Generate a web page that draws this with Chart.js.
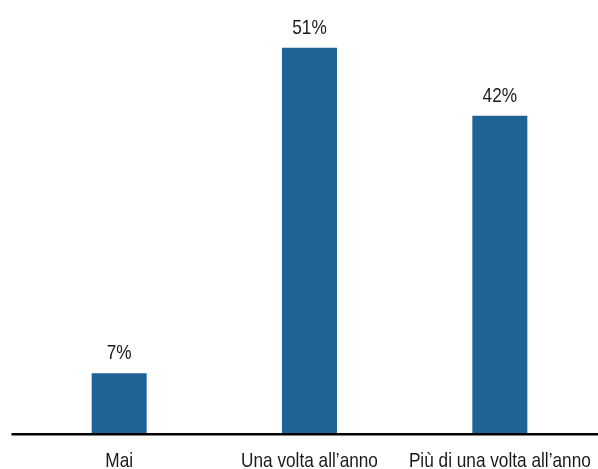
<!DOCTYPE html>
<html>
<head>
<meta charset="utf-8">
<script src="https://cdn.jsdelivr.net/npm/chart.js@4"></script>
<style>
  html, body { margin: 0; padding: 0; background: #fff; overflow: hidden; }
</style>
</head>
<body>
<canvas id="canvas" width="598" height="469"></canvas>
<script>
// dati del grafico
var categories = ["Mai", "Una volta all\u2019anno", "Pi\u00f9 di una volta all\u2019anno"];
var values = [7.9, 51, 42];
var valueLabels = ["7%", "51%", "42%"];

var FONT = "'Liberation Sans', Arial, sans-serif";
var NARROW = 0.82; // simula un carattere condensato

function narrowText(ctx, text, x, y) {
    ctx.save();
    ctx.translate(x, y);
    ctx.scale(NARROW, 1);
    ctx.fillText(text, 0, 0);
    ctx.restore();
}

// etichette (valori e categorie) + linea dell'asse
var barLabels = {
    id: "barLabels",
    afterDatasetsDraw: function (chart) {
        var ctx = chart.ctx;
        var meta = chart.getDatasetMeta(0);
        var xs = chart.scales.x;
        var y0 = chart.scales.y.getPixelForValue(0);
        ctx.save();
        ctx.fillStyle = "#1a1a1a";
        ctx.font = "21px " + FONT;
        ctx.textAlign = "center";
        ctx.textBaseline = "alphabetic";
        meta.data.forEach(function (bar, i) {
            narrowText(ctx, valueLabels[i], bar.x, bar.y - 14);
        });
        categories.forEach(function (c, i) {
            narrowText(ctx, c, xs.getPixelForValue(i), y0 + 34);
        });
        // asse x
        ctx.strokeStyle = "#000";
        ctx.lineWidth = 2.5;
        ctx.beginPath();
        ctx.moveTo(chart.chartArea.left - 12.5, y0 + 1.3);
        ctx.lineTo(chart.width, y0 + 1.3);
        ctx.stroke();
        ctx.restore();
    }
};

var ctx = document.getElementById("canvas").getContext("2d");
var config = {
    type: "bar",
    data: {
        labels: categories,
        datasets: [{
            data: values,
            backgroundColor: "#1f6396",
            barPercentage: 0.289,
            categoryPercentage: 1
        }]
    },
    options: {
        responsive: false,
        animation: false,
        layout: { padding: { left: 24, right: 3, top: 0, bottom: 36 } },
        plugins: {
            legend: { display: false },
            tooltip: { enabled: false }
        },
        scales: {
            x: {
                display: false
            },
            y: {
                display: false,
                min: 0,
                max: 57.33
            }
        }
    },
    plugins: [barLabels]
};
var myChart = new Chart(ctx, config);
</script>
</body>
</html>
